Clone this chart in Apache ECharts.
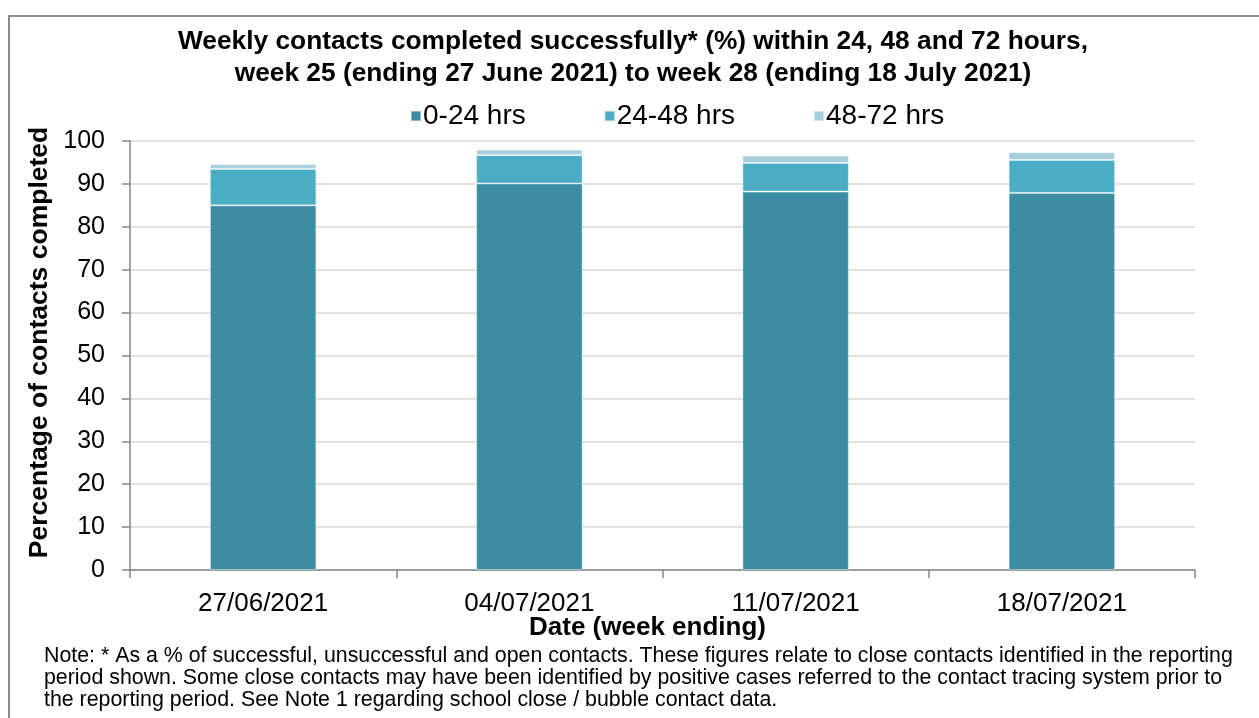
<!DOCTYPE html>
<html lang="en">
<head>
  <meta charset="UTF-8">
  <title>Weekly contacts completed successfully</title>
  <script src="https://cdn.jsdelivr.net/npm/echarts@6/dist/echarts.min.js"></script>
  <style>
    html, body { margin: 0; padding: 0; background: #ffffff; }
    #chart { width: 1259px; height: 718px; }
  </style>
</head>
<body>
  <div id="chart"></div>
  <script>
    // data
    var weeks = ['27/06/2021', '04/07/2021', '11/07/2021', '18/07/2021'];
    var hrs0to24 = [85.0, 90.1, 88.2, 87.9];
    var hrs24to48 = [8.5, 6.6, 6.7, 7.7];
    var hrs48to72 = [1.1, 1.3, 1.7, 1.8];
    var yTicks = [0, 10, 20, 30, 40, 50, 60, 70, 80, 90, 100];

    var font = 'Liberation Sans, Arial, sans-serif';
    var chart = echarts.init(document.getElementById('chart'));

    function barSeries(name, data, color) {
      return {
        name: name,
        type: 'bar',
        stack: 'total',
        barWidth: '40%',
        data: data,
        itemStyle: { color: color, borderColor: 'rgba(255,255,255,0.4)', borderWidth: 1 }
      };
    }

    var option = {
      animation: false,
      textStyle: { fontFamily: font },
      title: {
        text: 'Weekly contacts completed successfully* (%) within 24, 48 and 72 hours,\nweek 25 (ending 27 June 2021) to week 28 (ending 18 July 2021)',
        left: 628,
        top: 21,
        textAlign: 'center',
        textStyle: { fontSize: 26.3, fontWeight: 'bold', color: '#000', lineHeight: 32, fontFamily: font }
      },
      legend: {
        left: 405,
        top: 97,
        itemWidth: 10,
        itemHeight: 10,
        itemGap: 78,
        icon: 'rect',
        textStyle: { fontSize: 28, color: '#000', fontFamily: font, padding: [0, 0, 0, -3] },
        data: ['0-24 hrs', '24-48 hrs', '48-72 hrs']
      },
      grid: { left: 130, right: 64, top: 141, bottom: 148 },
      xAxis: {
        type: 'category',
        data: weeks,
        name: 'Date (week ending)',
        nameLocation: 'middle',
        nameGap: 45,
        nameMoveOverlap: false,
        nameTextStyle: { fontSize: 26, fontWeight: 'bold', color: '#000', padding: [0, 30, 0, 0] },
        axisLine: { lineStyle: { color: '#868686', width: 1.5 } },
        axisTick: { show: true, length: 8, lineStyle: { color: '#868686', width: 1.5 } },
        axisLabel: { fontSize: 26, color: '#000', margin: 21 }
      },
      yAxis: {
        type: 'value',
        min: 0,
        max: 100,
        interval: 10,
        name: 'Percentage of contacts completed',
        nameLocation: 'middle',
        nameGap: 77,
        nameMoveOverlap: false,
        nameTextStyle: { fontSize: 26.5, fontWeight: 'bold', color: '#000', padding: [0, 0, 0, 26] },
        axisLine: { show: true, lineStyle: { color: '#868686', width: 1.5 } },
        axisTick: { show: true, length: 8, lineStyle: { color: '#868686', width: 1.5 } },
        axisLabel: {
          fontSize: 25, color: '#000', margin: 25,
          formatter: function (v) { return yTicks.indexOf(v) >= 0 ? String(v) : ''; }
        },
        splitLine: { lineStyle: { color: '#d9d9d9', width: 1.5 } }
      },
      series: [
        barSeries('0-24 hrs', hrs0to24, '#3c8da4'),
        barSeries('24-48 hrs', hrs24to48, '#4bacc6'),
        barSeries('48-72 hrs', hrs48to72, '#a7cfdc')
      ],
      graphic: [
        {
          type: 'rect',
          shape: { x: 9, y: 16, width: 1270, height: 720 },
          style: { fill: 'none', stroke: '#8c8c8c', lineWidth: 2 },
          silent: true,
          z: -1
        },
        {
          type: 'text',
          left: 44,
          top: 645,
          style: {
            text: 'Note: * As a % of successful, unsuccessful and open contacts. These figures relate to close contacts identified in the reporting\nperiod shown. Some close contacts may have been identified by positive cases referred to the contact tracing system prior to\nthe reporting period. See Note 1 regarding school close / bubble contact data.',
            font: '21.35px ' + font,
            fill: '#000',
            lineHeight: 22
          }
        }
      ]
    };

    chart.setOption(option);
  </script>
</body>
</html>
